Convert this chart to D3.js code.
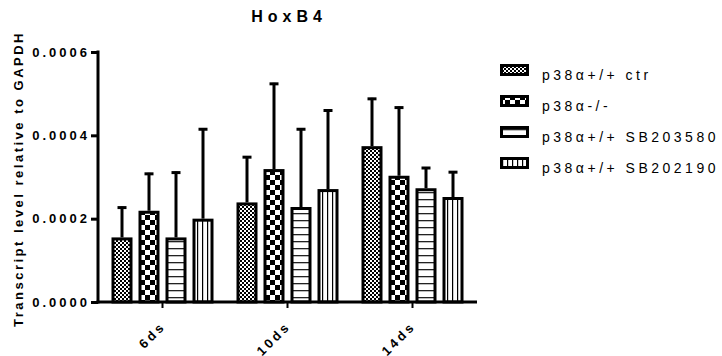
<!DOCTYPE html>
<html>
<head>
<meta charset="utf-8">
<script src="https://cdn.jsdelivr.net/npm/d3@7"></script>
<style>
  body { margin: 0; background: #fff; }
  text { font-family: "Liberation Sans", Arial, sans-serif; fill: #000; }
</style>
</head>
<body>
<div id="chart"></div>
<script>
// data
const days = ["6ds", "10ds", "14ds"];
const groups = ["p38α+/+ ctr", "p38α-/-", "p38α+/+ SB203580", "p38α+/+ SB202190"];
const means = [
  [0.000155, 0.000219, 0.000155, 0.000200],   // 6ds
  [0.000239, 0.000319, 0.000228, 0.000271],   // 10ds
  [0.000374, 0.000303, 0.000273, 0.000252]    // 14ds
];
const upper = [
  [0.000229, 0.000310, 0.000313, 0.000417],
  [0.000350, 0.000526, 0.000417, 0.000462],
  [0.000490, 0.000469, 0.000324, 0.000314]
];
const yTicks = [0, 0.0002, 0.0004, 0.0006];

const width = 722, height = 356;
const svg = d3.select("#chart").append("svg")
    .attr("width", width)
    .attr("height", height);

// 填充图案
const defs = svg.append("defs");
const fine = defs.append("pattern").attr("id", "pat0")
    .attr("patternUnits", "userSpaceOnUse").attr("width", 4).attr("height", 4);
fine.append("rect").attr("width", 4).attr("height", 4).attr("fill", "#fff");
fine.append("rect").attr("width", 2).attr("height", 2).attr("fill", "#000");
fine.append("rect").attr("x", 2).attr("y", 2).attr("width", 2).attr("height", 2).attr("fill", "#000");

const big = defs.append("pattern").attr("id", "pat1")
    .attr("patternUnits", "userSpaceOnUse").attr("width", 10).attr("height", 10);
big.append("rect").attr("width", 10).attr("height", 10).attr("fill", "#fff");
big.append("rect").attr("width", 5).attr("height", 5).attr("fill", "#000");
big.append("rect").attr("x", 5).attr("y", 5).attr("width", 5).attr("height", 5).attr("fill", "#000");

const hor = defs.append("pattern").attr("id", "pat2")
    .attr("patternUnits", "userSpaceOnUse").attr("width", 7).attr("height", 7);
hor.append("rect").attr("width", 7).attr("height", 7).attr("fill", "#fff");
hor.append("rect").attr("y", 3).attr("width", 7).attr("height", 1.3).attr("fill", "#222");

const ver = defs.append("pattern").attr("id", "pat3")
    .attr("patternUnits", "userSpaceOnUse").attr("width", 5).attr("height", 5);
ver.append("rect").attr("width", 5).attr("height", 5).attr("fill", "#fff");
ver.append("rect").attr("x", 2).attr("width", 1.2).attr("height", 5).attr("fill", "#000");

const fills = groups.map((g, i) => `url(#pat${i})`);

// scales
const x0 = d3.scaleBand().domain(days).range([100, 475]);
const x1 = d3.scaleBand().domain(groups).range([11.5, 113.5]).paddingInner(6 / 27);
const y = d3.scaleLinear().domain([0, 0.0006]).range([302, 52]);

// title
svg.append("text")
    .attr("x", 289).attr("y", 22)
    .attr("text-anchor", "middle")
    .style("font-size", "16px").style("font-weight", "bold")
    .style("letter-spacing", "5px")
    .text("HoxB4");

// y axis title
svg.append("text")
    .attr("transform", "translate(23,179) rotate(-90)")
    .attr("text-anchor", "middle")
    .style("font-size", "13px").style("font-weight", "bold")
    .style("letter-spacing", "2.5px")
    .text("Transcript level relative to GAPDH");

// bars
const flat = [];
days.forEach((d, i) => groups.forEach((g, j) => {
  flat.push({ day: d, group: g, idx: j, mean: means[i][j], up: upper[i][j] });
}));

const barG = svg.append("g");
const bw = x1.bandwidth();

// error bars first, bars drawn over
barG.selectAll("line.err")
    .data(flat).enter().append("line")
    .attr("class", "err")
    .attr("x1", d => x0(d.day) + x1(d.group) + bw / 2)
    .attr("x2", d => x0(d.day) + x1(d.group) + bw / 2)
    .attr("y1", d => y(d.mean))
    .attr("y2", d => y(d.up))
    .attr("stroke", "#000").attr("stroke-width", 3);
barG.selectAll("line.cap")
    .data(flat).enter().append("line")
    .attr("class", "cap")
    .attr("x1", d => x0(d.day) + x1(d.group) + bw / 2 - 4.5)
    .attr("x2", d => x0(d.day) + x1(d.group) + bw / 2 + 4.5)
    .attr("y1", d => y(d.up) + 1)
    .attr("y2", d => y(d.up) + 1)
    .attr("stroke", "#000").attr("stroke-width", 3);

barG.selectAll("rect.bar")
    .data(flat).enter().append("rect")
    .attr("class", "bar")
    .attr("x", d => x0(d.day) + x1(d.group) + 1.5)
    .attr("width", bw - 3)
    .attr("y", d => y(d.mean) + 1.5)
    .attr("height", d => y(0) - y(d.mean) - 1.5)
    .attr("fill", d => fills[d.idx])
    .attr("stroke", "#000").attr("stroke-width", 3);

// y axis
const yAxis = svg.append("g")
    .attr("transform", "translate(98,0)")
    .call(d3.axisLeft(y).tickValues(yTicks).tickFormat(d3.format(".4f")).tickSize(7).tickPadding(4));
yAxis.select(".domain").attr("stroke-width", 3).attr("d", "M0,50.5V303.5");
yAxis.selectAll(".tick line").attr("stroke-width", 3);
yAxis.selectAll(".tick text")
    .style("font-family", "Liberation Sans, Arial, sans-serif")
    .style("font-size", "13px").style("font-weight", "bold")
    .style("letter-spacing", "3px")
    .attr("dx", "3px");

// x axis
const xAxis = svg.append("g")
    .attr("transform", "translate(0,302)")
    .call(d3.axisBottom(x0).tickSize(6).tickSizeOuter(0));
xAxis.select(".domain").attr("stroke-width", 3).attr("d", "M96.5,0H477");
xAxis.selectAll(".tick line").attr("stroke-width", 2);
xAxis.selectAll(".tick text")
    .attr("text-anchor", "end")
    .attr("x", 0).attr("y", 0).attr("dy", 0)
    .attr("transform", "translate(4,25) rotate(-45)")
    .style("font-family", "Liberation Sans, Arial, sans-serif")
    .style("font-size", "13px").style("font-weight", "bold")
    .style("letter-spacing", "3px");

// legend
const legend = svg.append("g").attr("transform", "translate(500,64)");
const item = legend.selectAll("g").data(groups).enter().append("g")
    .attr("transform", (d, i) => `translate(0,${i * 31})`);
item.append("rect")
    .attr("x", 1.5).attr("y", 1.5)
    .attr("width", 26).attr("height", 9)
    .attr("fill", (d, i) => fills[i])
    .attr("stroke", "#000").attr("stroke-width", 3);
item.append("text")
    .attr("x", 42).attr("y", 16)
    .style("font-size", "14px")
    .style("letter-spacing", "3.5px")
    .text(d => d);
</script>
</body>
</html>
